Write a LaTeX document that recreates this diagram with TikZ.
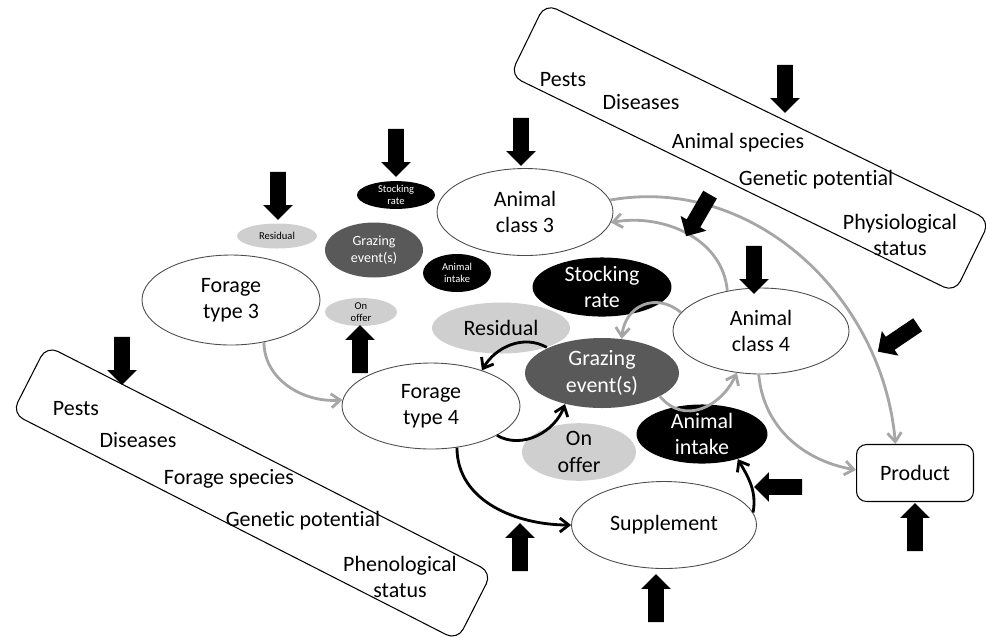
\documentclass[tikz,border=0pt]{standalone}
\usepackage{fontspec}
\setmainfont{Carlito}[Ligatures=NoCommon]
\usetikzlibrary{arrows.meta, shapes.geometric, shapes.arrows}
\definecolor{flowGrey}{HTML}{A6A6A6}
\definecolor{grazeDark}{HTML}{595959}
\definecolor{offerLight}{HTML}{CFCFCF}

\begin{document}
\begin{tikzpicture}[x=0.02cm, y=0.02cm,
    every node/.style={font=\fontsize{12.5}{15}\selectfont, inner sep=0pt, align=center},
    stateell/.style={ellipse, draw=black!70, line width=0.5pt, fill=white},
    blackell/.style={ellipse, fill=black, text=white},
    darkell/.style={ellipse, fill=grazeDark, text=white},
    lightell/.style={ellipse, fill=offerLight},
    tiny/.style={font=\fontsize{6}{7}\selectfont},
    factorbox/.style={draw, rounded corners=0.25cm, line width=0.6pt},
    bigarrow/.style={single arrow, fill=black, inner sep=0.15cm, minimum height=0.96cm, minimum width=0.58cm, single arrow head extend=0.14cm},
    greyflow/.style={draw=flowGrey, line width=1.6pt, -{Straight Barb[length=1.8mm, width=2.8mm]}},
    blackflow/.style={draw=black, line width=1.6pt, -{Straight Barb[length=1.8mm, width=2.8mm]}}]
  \useasboundingbox (0,0) rectangle (986,-637);

  % factor boxes
  \node[factorbox, rotate=-26, minimum width=9.9cm, minimum height=1.6cm] (animalbox) at (750,-148) {};
  \node[factorbox, rotate=-27, minimum width=10cm, minimum height=1.52cm] (foragebox) at (252,-493) {};
  \node (apests) at (563,-80) {Pests};
  \node (adis) at (641,-102) {Diseases};
  \node (aspec) at (738,-143) {Animal species};
  \node (agen) at (816,-180) {Genetic potential};
  \node (aphys) at (900,-235) {Physiological\\status};
  \node (fpests) at (76,-409) {Pests};
  \node (fdis) at (138,-440) {Diseases};
  \node (fspec) at (229,-479) {Forage species};
  \node (fgen) at (303,-521) {Genetic potential};
  \node (fphen) at (400,-577) {Phenological\\status};

  % small pool
  \node[lightell, tiny, minimum width=1.6cm, minimum height=0.5cm] (reS) at (277,-236) {Residual};
  \node[darkell, font=\fontsize{8}{10}\selectfont, minimum width=1.96cm, minimum height=1.1cm] (geS) at (374,-250) {Grazing\\event(s)};
  \node[blackell, tiny, minimum width=1.56cm, minimum height=0.52cm] (srS) at (396,-195) {Stocking\\rate};
  \node[blackell, tiny, minimum width=1.36cm, minimum height=0.76cm] (aiS) at (457,-273) {Animal\\intake};
  \node[lightell, tiny, minimum width=1.44cm, minimum height=0.56cm] (ooS) at (361,-312) {On\\offer};

  % states
  \node[stateell, minimum width=3.52cm, minimum height=1.74cm] (ac3) at (525,-212) {Animal\\class 3};
  \node[stateell, minimum width=3.56cm, minimum height=1.8cm] (ft3) at (231,-300) {Forage\\type 3};
  \node[stateell, minimum width=3.56cm, minimum height=1.72cm] (ft4) at (431,-406) {Forage\\type 4};
  \node[stateell, minimum width=3.52cm, minimum height=1.72cm] (ac4) at (761,-331) {Animal\\class 4};
  \node[stateell, minimum width=3.7cm, minimum height=1.74cm] (sup) at (664,-525) {Supplement};
  \node[draw, rounded corners=0.2cm, line width=0.6pt, minimum width=2.34cm, minimum height=1.14cm] (prod) at (915,-473) {Product};

  % large pool
  \node[blackell, minimum width=2.78cm, minimum height=1.14cm] (srB) at (602,-287) {Stocking\\rate};
  \node[lightell, minimum width=2.76cm, minimum height=1.02cm] (reB) at (501,-328) {Residual};
  \node[darkell, minimum width=3.08cm, minimum height=1.4cm] (geB) at (602,-373) {Grazing\\event(s)};
  \node[lightell, minimum width=2.28cm, minimum height=1.14cm] (ooB) at (579,-452) {On\\offer};
  \node[blackell, minimum width=2.62cm, minimum height=1.04cm] (aiB) at (702,-434) {Animal\\intake};

  % flows
  \draw[greyflow] (ft3.-52) to[out=-90, in=185] (ft4.176);
  \draw[greyflow] (ac4.130) to[out=95, in=10] (ac3.-7);
  \draw[greyflow] (ac3.8) to[out=10, in=95] (prod.124);
  \draw[greyflow] (ac4.-93) to[out=-85, in=170] (prod.177);
  \draw[greyflow] (ac4.167) to[out=140, in=85, looseness=1.3] (geB.60);
  \draw[greyflow] (geB.-22) to[out=-50, in=-115, looseness=1.2] (ac4.-120);
  \draw[blackflow] (reB.-23) to[out=150, in=60] (ft4.35);
  \draw[blackflow] (ft4.-24) to[out=-30, in=-110] (geB.-140);
  \draw[blackflow] (ft4.-58) to[out=-90, in=180] (sup.180);
  \draw[blackflow] (sup.8) to[out=80, in=-60] (aiB.-35);

  % drivers
  \foreach \x/\y/\r [count=\i] in {785/85/-90, 521/138/-90, 396/149/-90, 278/192/-90,
      360/353/90, 122/357/-90, 700/212/-120, 754/266/-90, 901/336/-146,
      782/487/180, 915/531/90, 656/602/90, 520/551/90}
    \node[bigarrow, rotate=\r] (drv\i) at (\x,-\y) {};
\end{tikzpicture}
\end{document}
